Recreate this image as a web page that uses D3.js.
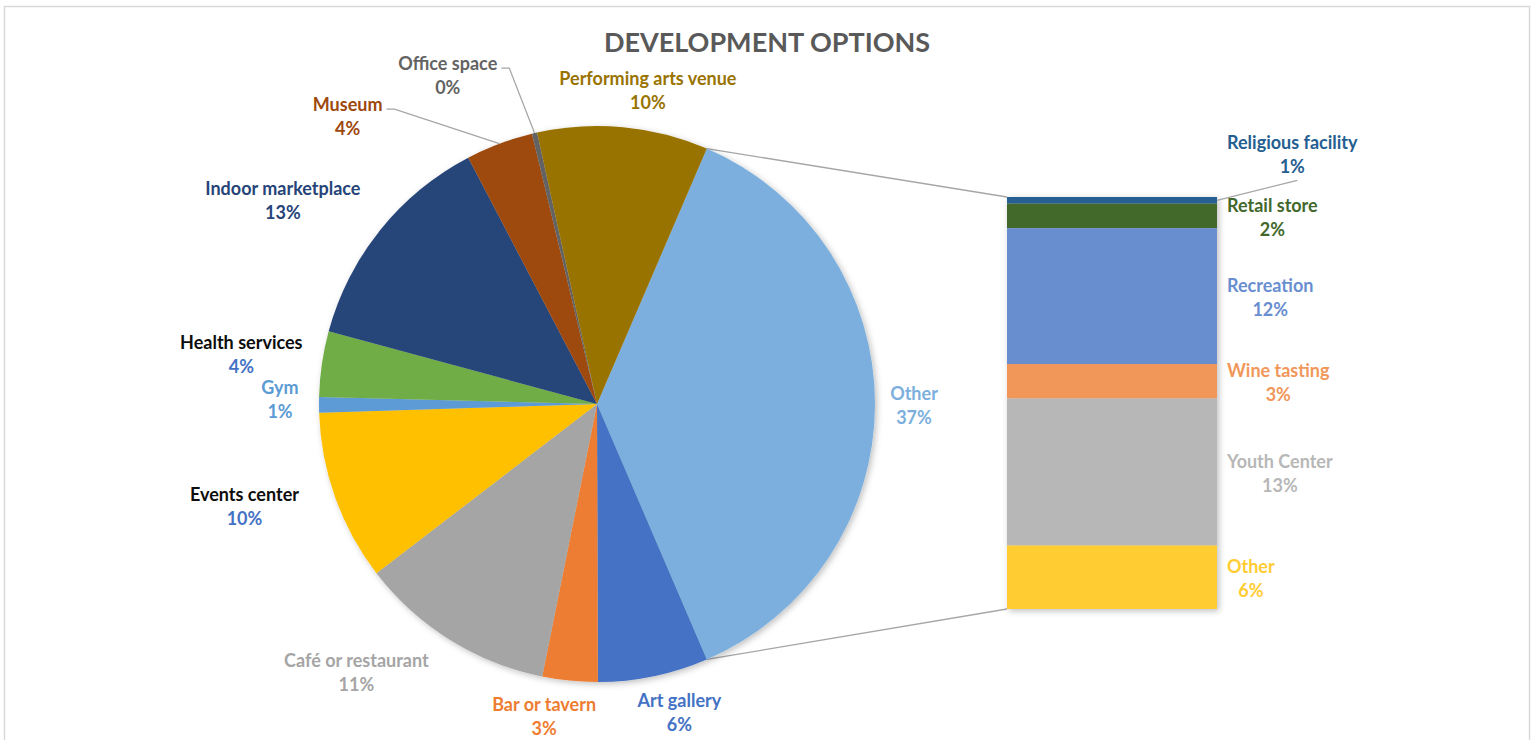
<!DOCTYPE html>
<html>
<head>
<meta charset="utf-8">
<script src="https://cdn.jsdelivr.net/npm/d3@7"></script>
<style>
  body { margin: 0; background: #fff; }
  text { font-family: Lato, "Open Sans", sans-serif; font-weight: 700; }
</style>
</head>
<body>
<svg id="chart" width="1535" height="740"></svg>
<script>
// pie slices, clockwise starting with the "Other" slice
const pieNames = ["Other", "Art gallery", "Bar or tavern", "Café or restaurant", "Events center", "Gym",
  "Health services", "Indoor marketplace", "Museum", "Office space", "Performing arts venue"];
const pieColors = ["#7CAFDD", "#4472C4", "#ED7D31", "#A5A5A5", "#FFC000", "#5B9BD5",
  "#70AD47", "#264478", "#9E480E", "#636363", "#997300"];
const pieValues = [6.4, 3.2, 11.4, 9.9, 0.9, 3.8, 13.1, 3.9, 0.3, 9.9]; // without "Other"

// the "Other" slice broken out into the bar, top to bottom
const barNames = ["Religious facility", "Retail store", "Recreation", "Wine tasting", "Youth Center", "Other"];
const barColors = ["#255E91", "#43682B", "#698ED0", "#F1975A", "#B7B7B7", "#FFCD33"];
const barValues = [0.6, 2.2, 12.2, 3.1, 13.2, 5.7];

// label text colours that differ from the slice colour
const nameColorFix = { "Health services": "#0d0d0d", "Events center": "#0d0d0d" };
const pctColorFix = { "Health services": "#4472C4", "Events center": "#4472C4" };

// manual label moves (px) from the default outside position, like Excel's best fit
const pieNudge = {
  "Other": [0, 1], "Art gallery": [18, -2], "Bar or tavern": [-22, -3], "Café or restaurant": [-73, -1],
  "Events center": [-54, -5], "Gym": [0, -6], "Health services": [-42, -4], "Indoor marketplace": [-67, -5],
  "Museum": [-138, 9], "Office space": [-78, -20], "Performing arts venue": [21, 2]
};
const withLeader = ["Museum", "Office space"];

const svg = d3.select("#chart");
const cx = 597, cy = 404, r = 278;
const bar = { x: 1007, w: 210, top: 197, bottom: 609 };
const fs = 18;

const otherValue = d3.sum(barValues);
const slices = [{ name: pieNames[0], value: otherValue, color: pieColors[0] }]
  .concat(pieValues.map((v, i) => ({ name: pieNames[i + 1], value: v, color: pieColors[i + 1] })));
const total = d3.sum(slices, d => d.value);
const fmt = d3.format(".0%");

// frame
svg.append("rect")
  .attr("x", 4.5).attr("y", 6.5).attr("width", 1525).attr("height", 760)
  .attr("fill", "#fff").attr("stroke", "#d9d9d9").attr("stroke-width", 1.5);

const defs = svg.append("defs");
defs.append("filter").attr("id", "shadow")
  .attr("x", "-10%").attr("y", "-10%").attr("width", "130%").attr("height", "130%")
  .append("feDropShadow")
  .attr("dx", 2).attr("dy", 2).attr("stdDeviation", 3)
  .attr("flood-color", "#000").attr("flood-opacity", 0.25);

// title
svg.append("text")
  .attr("x", 767).attr("y", 52)
  .attr("text-anchor", "middle")
  .attr("font-size", 27)
  .attr("fill", "#595959")
  .text("DEVELOPMENT OPTIONS");

const otherSpan = otherValue / total * 2 * Math.PI;
const start = Math.PI / 2 - otherSpan / 2;
const pie = d3.pie().sort(null).value(d => d.value)
  .startAngle(start).endAngle(start + 2 * Math.PI);
const arcs = pie(slices);
const arc = d3.arc().innerRadius(0).outerRadius(r);

function pt(a, rad) {
  return [cx + rad * Math.sin(a), cy - rad * Math.cos(a)];
}

// connector lines pie -> bar
const oth = arcs[0];
const p1 = pt(oth.startAngle, r), p2 = pt(oth.endAngle, r);
svg.append("line")
  .attr("x1", p1[0]).attr("y1", p1[1]).attr("x2", bar.x).attr("y2", bar.top)
  .attr("stroke", "#a6a6a6").attr("stroke-width", 1.3);
svg.append("line")
  .attr("x1", p2[0]).attr("y1", p2[1]).attr("x2", bar.x).attr("y2", bar.bottom)
  .attr("stroke", "#a6a6a6").attr("stroke-width", 1.3);

// pie
svg.append("g")
  .attr("filter", "url(#shadow)")
  .attr("transform", "translate(" + cx + "," + cy + ")")
  .selectAll("path")
  .data(arcs)
  .enter()
  .append("path")
  .attr("d", arc)
  .attr("fill", d => d.data.color);

// bar of the "Other" slice
const y = d3.scaleLinear().domain([0, otherValue]).range([bar.top, bar.bottom]);
let acc = 0;
const stack = barValues.map((v, i) => {
  const s = { name: barNames[i], value: v, color: barColors[i], y0: acc, y1: acc + v };
  acc += v;
  return s;
});
svg.append("g")
  .attr("filter", "url(#shadow)")
  .selectAll("rect")
  .data(stack)
  .enter()
  .append("rect")
  .attr("x", bar.x)
  .attr("y", d => y(d.y0))
  .attr("width", bar.w)
  .attr("height", d => y(d.y1) - y(d.y0))
  .attr("fill", d => d.color);

// pie labels
arcs.forEach(d => {
  const name = d.data.name;
  const mid = (d.startAngle + d.endAngle) / 2;
  const base = pt(mid, r + 39);
  const nudge = pieNudge[name] || [0, 0];
  const lx = base[0] + nudge[0], ly = base[1] + nudge[1];
  const g = svg.append("g");
  const t = g.append("text")
    .attr("x", lx).attr("y", ly - 12)
    .attr("text-anchor", "middle").attr("dominant-baseline", "central")
    .attr("font-size", fs)
    .attr("fill", nameColorFix[name] || d.data.color)
    .text(name);
  g.append("text")
    .attr("x", lx).attr("y", ly + 12)
    .attr("text-anchor", "middle").attr("dominant-baseline", "central")
    .attr("font-size", fs)
    .attr("fill", pctColorFix[name] || d.data.color)
    .text(fmt(d.data.value / total));
  if (withLeader.includes(name)) {
    const w = t.node().getComputedTextLength();
    const sx = lx + w / 2 + 4, sy = ly - 7;
    const end = pt(mid, r);
    svg.append("path")
      .attr("d", "M" + sx + "," + sy + "H" + (sx + 8) + "L" + end[0] + "," + end[1])
      .attr("fill", "none").attr("stroke", "#a6a6a6").attr("stroke-width", 1.3);
  }
});

// bar labels, left aligned next to the bar
const barLabelX = bar.x + bar.w + 10;
stack.forEach((d, i) => {
  let c = (y(d.y0) + y(d.y1)) / 2 + 1;
  if (i === 0) c -= 47; // religious facility is lifted above the bar with a leader
  const t = svg.append("text")
    .attr("x", barLabelX).attr("y", c - 12)
    .attr("dominant-baseline", "central")
    .attr("font-size", fs)
    .attr("fill", d.color)
    .text(d.name);
  const w = t.node().getComputedTextLength();
  svg.append("text")
    .attr("x", barLabelX + w / 2).attr("y", c + 12)
    .attr("text-anchor", "middle").attr("dominant-baseline", "central")
    .attr("font-size", fs)
    .attr("fill", d.color)
    .text(fmt(d.value / total));
  if (i === 0) {
    svg.append("line")
      .attr("x1", bar.x + bar.w).attr("y1", (y(d.y0) + y(d.y1)) / 2)
      .attr("x2", barLabelX + w / 2 + 5).attr("y2", c + 26)
      .attr("stroke", "#a6a6a6").attr("stroke-width", 1.3);
  }
});
</script>
</body>
</html>
